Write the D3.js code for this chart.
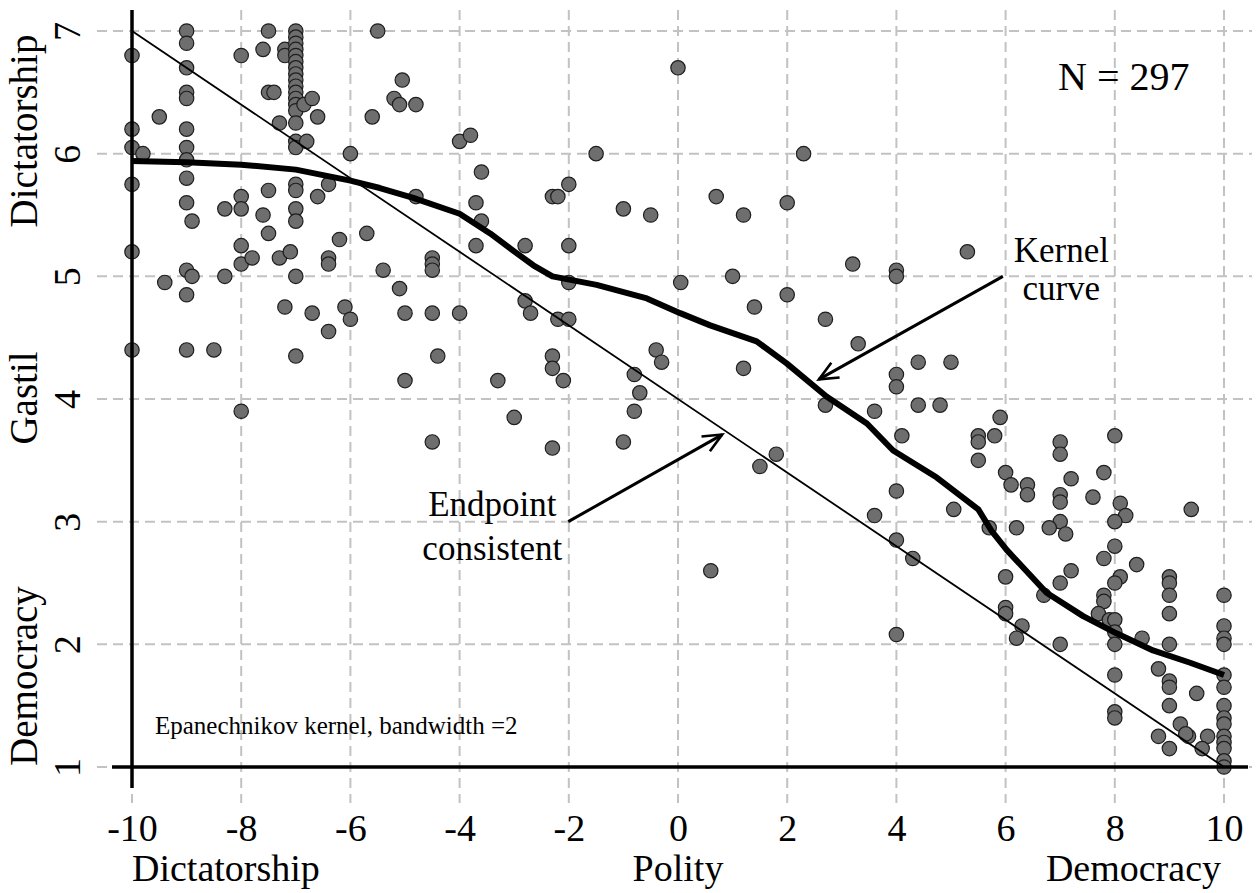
<!DOCTYPE html>
<html>
<head>
<meta charset="utf-8">
<script src="https://cdn.jsdelivr.net/npm/d3@7"></script>
<style>
  body { margin: 0; background: #fff; }
  text { font-family: "Liberation Serif", "Times New Roman", serif; fill: #000; }
</style>
</head>
<body>
<svg id="chart"></svg>
<script>
// Polity score of each country (x)
const polity = [
  -10, -10, -10, -10, -10, -10, -9.8,
  -9, -9, -9, -9, -9, -9, -9, -9, -9, -9, -9, -9, -9, -8.9, -8.9,
  -9.5, -9.4, -8.5, -8.3, -8.3,
  -8, -8, -8, -8, -8, -8,
  -7.8, -7.6, -7.5, -7.5, -7.4, -7.3, -7.5, -7.6, -7.5, -7.3, -7.1, -7.2, -7.2, -7.2,
  -7, -7, -7, -7, -7, -7, -7, -7, -7, -7,
  -7, -7, -7, -7, -7, -7, -7, -7, -7, -7,
  -7, -7, -7,
  -6.8, -6.85, -6.7, -6.6, -6.4, -6.6, -6.2, -6.4, -6.4, -6.7, -6.4, -6.1, -6, -6,
  -5.5, -5.6, -5.7, -5.4, -5.05, -5.2, -5.1, -4.8, -4.8, -5.1, -5, -5,
  -4.5, -4.5, -4.5, -4.5, -4.4, -4.5,
  -4, -3.8, -4, -3.6, -3.7, -3.6, -3.7, -3.3, -3,
  -2.8, -2.8, -2.7, -2.3, -2.2, -2, -2, -2, -2.2, -2, -2.3, -2.3, -2.1, -2.3,
  -1.5, -1, -0.5, -0.4, -0.3, -0.8, -0.7, -0.8, -1,
  0, 0.05, 0.6,
  2.3, 0.7, 1.2, 2, 1, 1.4, 2, 3.2, 4, 4, 2.7, 3.3, 1.2, 4.4, 5, 4, 4, 2.7, 3.6, 4.4, 4.8, 4.1, 1.8, 1.5,
  4, 3.6, 4, 4.3, 5.05, 4, 5.3,
  5.9, 5.5, 5.5, 5.8, 5.5, 6, 6.1, 6.4, 6.4, 5.7, 6.2,
  7, 7, 7.2, 7, 7, 7, 6.8, 7.1, 7.6, 7.8,
  8, 8.1, 8.2, 8, 8, 7.8, 8.4, 8.1, 8, 7.2,
  7, 6, 6.7, 7.8, 7.8, 7.7, 7.9, 8, 6, 6,
  6.3, 6.2, 7, 8, 8, 8.5, 8, 8, 8,
  9, 9, 9, 9, 9, 8.8, 9, 9, 9, 9.5,
  9.2, 8.8, 9, 9.35, 9.3, 9.7, 9.6, 9.4,
  10, 10, 10, 10, 10, 10, 10, 10, 10, 10, 10, 10, 10, 10
];
// Gastil index of each country (y)
const gastil = [
  6.8, 6.2, 6.05, 5.75, 5.2, 4.4, 6.0,
  7.0, 6.9, 6.7, 6.5, 6.45, 6.2, 6.05, 5.95, 5.8, 5.6, 5.05, 4.85, 4.4, 5.45, 5.0,
  6.3, 4.95, 4.4, 5.55, 5.0,
  6.8, 5.65, 5.55, 5.25, 5.1, 3.9,
  5.15, 6.85, 7.0, 6.5, 6.5, 6.25, 5.7, 5.5, 5.35, 5.15, 5.2, 4.75, 6.85, 6.8,
  7.0, 6.95, 6.9, 6.85, 6.8, 6.75, 6.7, 6.65, 6.6, 6.55,
  6.5, 6.45, 6.4, 6.35, 6.25, 6.1, 6.05, 5.75, 5.7, 5.55,
  5.45, 5.0, 4.35,
  6.1, 6.4, 6.45, 6.3, 5.75, 5.65, 5.3, 5.15, 5.1, 4.7, 4.55, 4.75, 4.65, 6.0,
  7.0, 6.3, 5.35, 5.05, 6.6, 6.45, 6.4, 6.4, 5.65, 4.9, 4.7, 4.15,
  5.15, 5.1, 5.05, 4.7, 4.35, 3.65,
  6.1, 6.15, 4.7, 5.85, 5.6, 5.45, 5.25, 4.15, 3.85,
  5.25, 4.8, 4.7, 5.65, 5.65, 5.75, 5.25, 4.95, 4.65, 4.65, 4.35, 4.25, 4.15, 3.6,
  6.0, 5.55, 5.5, 4.4, 4.3, 4.2, 4.05, 3.9, 3.65,
  6.7, 4.95, 2.6,
  6.0, 5.65, 5.5, 5.6, 5.0, 4.75, 4.85, 5.1, 5.05, 5.0, 4.65, 4.45, 4.25, 4.3, 4.3, 4.2, 4.1, 3.95, 3.9, 3.95, 3.95, 3.7, 3.55, 3.45,
  3.25, 3.05, 2.85, 2.7, 3.1, 2.08, 5.2,
  3.85, 3.7, 3.65, 3.7, 3.5, 3.4, 3.3, 3.3, 3.22, 2.95, 2.95,
  3.65, 3.55, 3.35, 3.22, 3.16, 3.0, 2.95, 2.9, 3.2, 3.4,
  3.7, 3.15, 3.05, 3.0, 2.8, 2.7, 2.65, 2.55, 2.5, 2.6,
  2.5, 2.55, 2.4, 2.4, 2.35, 2.25, 2.2, 2.2, 2.3, 2.25,
  2.15, 2.05, 2.0, 2.1, 2.0, 2.05, 1.75, 1.45, 1.4,
  2.55, 2.5, 2.4, 2.25, 2.0, 1.8, 1.7, 1.65, 1.5, 1.6,
  1.35, 1.25, 1.15, 1.25, 1.27, 1.25, 1.15, 3.1,
  2.4, 2.15, 2.05, 2.0, 1.75, 1.65, 1.5, 1.4, 1.35, 1.25, 1.2, 1.15, 1.05, 1.0
];

// Epanechnikov kernel curve (bandwidth 2)
const kernelX = [-10, -9, -8, -7, -6, -5.46, -4.85, -4.0, -3.44, -3.02, -2.65, -2.3, -1.49, -0.57, 0.04,
                 0.59, 1.44, 1.99, 2.72, 3.46, 3.94, 4.74, 5.5, 5.75, 6.02, 6.75, 7.42, 8.03, 8.7, 9.38, 10];
const kernelY = [5.94, 5.93, 5.91, 5.87, 5.78, 5.72, 5.64, 5.51, 5.35, 5.21, 5.09, 5.0, 4.93, 4.82, 4.7,
                 4.6, 4.47, 4.29, 4.02, 3.8, 3.58, 3.36, 3.1, 2.92, 2.77, 2.42, 2.23, 2.09, 1.95, 1.85, 1.75];

// Endpoint consistent line
const endX = [-10, 10];
const endY = [7, 1];

const xTicks = [-10, -8, -6, -4, -2, 0, 2, 4, 6, 8, 10];
const yTicks = [1, 2, 3, 4, 5, 6, 7];

const width = 1259, height = 893;
const x = d3.scaleLinear().domain([-10, 10]).range([132, 1224]);
const y = d3.scaleLinear().domain([1, 7]).range([767, 31]);

const svg = d3.select("#chart")
    .attr("width", width)
    .attr("height", height)
    .style("background", "#fff");

// grid
const grid = svg.append("g")
    .attr("stroke", "#c2c2c2")
    .attr("stroke-width", 2)
    .attr("stroke-dasharray", "10,6");
grid.selectAll(".vg").data(xTicks).join("line")
    .attr("class", "vg")
    .attr("x1", d => x(d)).attr("x2", d => x(d))
    .attr("y1", 10).attr("y2", 803);
grid.selectAll(".hg").data(yTicks).join("line")
    .attr("class", "hg")
    .attr("x1", 97).attr("x2", 1252)
    .attr("y1", d => y(d)).attr("y2", d => y(d));

// points
const pts = d3.zip(polity, gastil);
svg.append("g").selectAll("circle").data(pts).join("circle")
    .attr("cx", d => x(d[0]))
    .attr("cy", d => y(d[1]))
    .attr("r", 7.2)
    .attr("fill", "#6e6e6e")
    .attr("stroke", "#1e1e1e")
    .attr("stroke-width", 1.2);

const line = d3.line().x(d => x(d[0])).y(d => y(d[1]));

// endpoint consistent line
svg.append("path")
    .attr("d", line(d3.zip(endX, endY)))
    .attr("fill", "none")
    .attr("stroke", "#000")
    .attr("stroke-width", 1.8);

// kernel curve
svg.append("path")
    .attr("d", line(d3.zip(kernelX, kernelY)))
    .attr("fill", "none")
    .attr("stroke", "#000")
    .attr("stroke-width", 6)
    .attr("stroke-linejoin", "round");

// axis lines
svg.append("line")
    .attr("x1", x(-10)).attr("x2", x(-10))
    .attr("y1", 10).attr("y2", 788)
    .attr("stroke", "#000").attr("stroke-width", 3.5);
svg.append("line")
    .attr("x1", 112).attr("x2", 1248)
    .attr("y1", y(1)).attr("y2", y(1))
    .attr("stroke", "#000").attr("stroke-width", 3.5);

// tick labels
const gx = svg.append("g")
    .attr("transform", `translate(0,${y(1)})`)
    .call(d3.axisBottom(x).tickValues(xTicks).tickFormat(d => String(d)).tickSize(0));
gx.select(".domain").remove();
gx.selectAll("text").attr("y", 74).attr("dy", null).style("font-size", "38px");

const gy = svg.append("g")
    .attr("transform", `translate(${x(-10)},0)`)
    .call(d3.axisLeft(y).tickValues(yTicks).tickFormat(d => String(d)).tickSize(0));
gy.select(".domain").remove();
gy.selectAll("text")
    .attr("x", null).attr("dy", null)
    .attr("text-anchor", "middle")
    .attr("transform", "translate(-52,0) rotate(-90)")
    .style("font-size", "38px");

// axis titles
const yTitles = [["Dictatorship", 131], ["Gastil", 398], ["Democracy", 676]];
svg.selectAll(".ytitle").data(yTitles).join("text")
    .attr("class", "ytitle")
    .attr("text-anchor", "middle")
    .attr("transform", d => `translate(37,${d[1]}) rotate(-90)`)
    .style("font-size", "39px")
    .text(d => d[0]);

svg.append("text").attr("x", x(-10)).attr("y", 881)
    .attr("text-anchor", "start").style("font-size", "38px").text("Dictatorship");
svg.append("text").attr("x", x(0)).attr("y", 881)
    .attr("text-anchor", "middle").style("font-size", "38px").text("Polity");
svg.append("text").attr("x", 1221).attr("y", 881)
    .attr("text-anchor", "end").style("font-size", "38px").text("Democracy");

// annotations
svg.append("text").attr("x", x(6.96)).attr("y", y(6.52))
    .style("font-size", "40px").text("N = 297");
svg.append("text").attr("x", x(-9.58)).attr("y", y(1.27))
    .style("font-size", "25px").text("Epanechnikov kernel, bandwidth =2");

svg.append("text").attr("x", x(7.02)).attr("text-anchor", "middle")
    .style("font-size", "35px")
    .selectAll("tspan").data([["Kernel", 5.12], ["curve", 4.81]]).join("tspan")
    .attr("x", x(7.02)).attr("y", d => y(d[1])).text(d => d[0]);
svg.append("text").attr("x", x(-3.4)).attr("text-anchor", "middle")
    .style("font-size", "35px")
    .selectAll("tspan").data([["Endpoint", 3.05], ["consistent", 2.69]]).join("tspan")
    .attr("x", x(-3.4)).attr("y", d => y(d[1])).text(d => d[0]);

// arrows
svg.append("defs").append("marker")
    .attr("id", "arrow")
    .attr("markerUnits", "userSpaceOnUse")
    .attr("viewBox", "-22 -12 26 24")
    .attr("refX", 0).attr("refY", 0)
    .attr("markerWidth", 26).attr("markerHeight", 24)
    .attr("orient", "auto")
    .append("path")
    .attr("d", "M-19,-8.5L0,0L-19,8.5")
    .attr("fill", "none")
    .attr("stroke", "#000")
    .attr("stroke-width", 2.6);

const arrows = [
  [[5.95, 5.0], [2.58, 4.16]],
  [[-2.01, 3.0], [0.81, 3.71]]
];
svg.selectAll(".arrow").data(arrows).join("path")
    .attr("class", "arrow")
    .attr("d", d => line(d))
    .attr("fill", "none")
    .attr("stroke", "#000")
    .attr("stroke-width", 3)
    .attr("marker-end", "url(#arrow)");
</script>
</body>
</html>
